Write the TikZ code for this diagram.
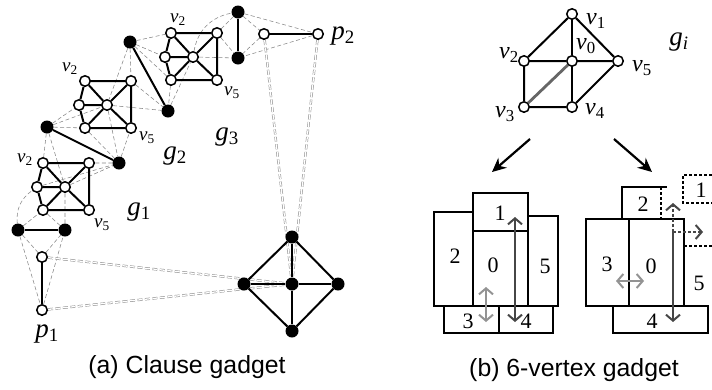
\documentclass[tikz,border=0pt]{standalone}
\usepackage{fontspec}
\setmainfont{Liberation Serif}
\newfontfamily\capfont{Liberation Sans}
\usetikzlibrary{arrows.meta, backgrounds}
\newcommand{\lab}[2]{\textit{#1}\textsubscript{#2}}

\begin{document}
\begin{tikzpicture}[x=1pt, y=-1pt,
  wv/.style={circle, draw, fill=white, line width=1.5pt, inner sep=0pt, minimum size=10.5pt},
  bv/.style={circle, fill=black, inner sep=0pt, minimum size=13pt},
  edge/.style={line width=2pt},
  aux/.style={draw=gray!95, line width=0.55pt, dash pattern=on 4pt off 2.5pt},
  link/.style={draw=gray!95, line width=0.5pt, double=white, double distance=1.3pt, dash pattern=on 5pt off 2.5pt},
  vlab/.style={font=\fontsize{19}{21}\selectfont, inner sep=0pt},
  blab/.style={font=\fontsize{24}{26}\selectfont, inner sep=0pt},
  glab/.style={font=\fontsize{27}{29}\selectfont, inner sep=0pt},
  num/.style={font=\fontsize{22}{24}\selectfont, inner sep=0pt},
  box/.style={line width=1.8pt},
  dbox/.style={line width=1.8pt, dash pattern=on 3pt off 2pt},
  arrow/.style={line width=2.2pt, -{Stealth[length=14pt, width=13pt]}},
  move/.style={line width=2pt, {Straight Barb[length=6pt, width=14pt]}-{Straight Barb[length=6pt, width=14pt]}},
  push/.style={line width=2pt, -{Straight Barb[length=6pt, width=14pt]}},
  subcap/.style={font=\capfont\fontsize{24.8}{28}\selectfont, inner sep=0pt}
]
\useasboundingbox (0,0) rectangle (712,389);

% (a) clause gadget
\foreach \g/\x/\y in {1/43/163, 2/85/81, 3/171/33} {
  \node[wv] (g\g-tl) at (\x,\y) {};
  \node[wv] (g\g-tr) at (\x+46,\y) {};
  \node[wv] (g\g-bl) at (\x,\y+47) {};
  \node[wv] (g\g-br) at (\x+46,\y+47) {};
  \node[wv] (g\g-l) at (\x-6,\y+24) {};
  \node[wv] (g\g-c) at (\x+22,\y+24) {};
  \draw[edge] (g\g-tl) -- (g\g-tr) -- (g\g-br) -- (g\g-bl) -- (g\g-l) -- (g\g-tl);
  \draw[edge] (g\g-c) -- (g\g-tl) (g\g-c) -- (g\g-tr) (g\g-c) -- (g\g-bl)
    (g\g-c) -- (g\g-br) (g\g-c) -- (g\g-l);
}

\node[bv] (b1) at (18,230) {};
\node[bv] (b2) at (65,230) {};
\node[wv] (w1) at (42,257) {};
\node[wv] (p1) at (42,310) {};
\node[bv] (c1) at (47,127) {};
\node[bv] (c2) at (119,163) {};
\node[bv] (d1) at (130,42) {};
\node[bv] (d2) at (168,111) {};
\node[bv] (e1) at (238,12) {};
\node[bv] (e2) at (238,58) {};
\node[wv] (w2) at (264,34) {};
\node[wv] (p2) at (318,34) {};

\node[bv] (dt) at (292,237) {};
\node[bv] (dl) at (244,284) {};
\node[bv] (dc) at (292,284) {};
\node[bv] (dr) at (338,284) {};
\node[bv] (db) at (292,331) {};

\draw[edge] (b1) -- (b2);
\draw[edge] (w1) -- (p1);
\draw[edge] (c1) -- (c2);
\draw[edge] (d1) -- (d2);
\draw[edge] (e1) -- (e2);
\draw[edge] (w2) -- (p2);
\draw[edge] (dt) -- (dl) -- (db) -- (dr) -- (dt);
\draw[edge] (dt) -- (dc) -- (db);
\draw[edge] (dl) -- (dc) -- (dr);

\begin{scope}[on background layer]
  \draw[aux] (b1) -- (w1) -- (b2);
  \draw[aux] (b1) -- (p1) -- (b2);
  \draw[aux] (b1) -- (g1-bl) -- (b2) -- (g1-c);
  \draw[aux] (b1) to[bend left=30] (g1-l);
  \draw[aux] (c1) -- (g1-tl);
  \draw[aux] (c1) -- (g1-c) -- (c2) -- (g1-tr);
  \draw[aux] (g1-l) -- (c2);
  \draw[aux] (c1) -- (g2-l);
  \draw[aux] (c1) -- (g2-bl) -- (c2);
  \draw[aux] (c1) -- (g2-c) -- (c2) -- (g2-br);
  \draw[aux] (d1) -- (g2-tr) -- (d2);
  \draw[aux] (d1) -- (g2-c) -- (d2);
  \draw[aux] (d1) -- (g3-l);
  \draw[aux] (d1) -- (g3-tl);
  \draw[aux] (d1) -- (g3-bl) -- (d2);
  \draw[aux] (d2) -- (g3-c);
  \draw[aux] (e1) -- (g3-tr) -- (e2);
  \draw[aux] (g3-c) to[bend left=35] (e1);
  \draw[aux] (g3-c) -- (e2);
  \draw[aux] (e1) -- (w2) -- (e2);
  \draw[aux] (e1) -- (p2) -- (e2);
  \draw[link] (w1) -- (dc);
  \draw[link] (p1) -- (dc);
  \draw[link] (w2) -- (dc);
  \draw[link] (p2) -- (dc);
\end{scope}

\node[vlab] (g1-v2) at (25,160) {\lab{v}{2}};
\node[vlab] (g1-v5) at (102,225) {\lab{v}{5}};
\node[vlab] (g2-v2) at (70,69) {\lab{v}{2}};
\node[vlab] (g2-v5) at (147,138) {\lab{v}{5}};
\node[vlab] (g3-v2) at (178,20) {\lab{v}{2}};
\node[vlab] (g3-v5) at (232,93) {\lab{v}{5}};
\node[glab] (g1-name) at (139,212) {\lab{g}{1}};
\node[glab] (g2-name) at (175,156) {\lab{g}{2}};
\node[glab] (g3-name) at (227,137) {\lab{g}{3}};
\node[glab] (p1-name) at (47,334) {\lab{p}{1}};
\node[glab] (p2-name) at (343,36) {\lab{p}{2}};

\node[subcap] (capa) at (187,367) {(a) Clause gadget};

% (b) 6-vertex gadget
\node[wv] (v0) at (572,61) {};
\node[wv] (v1) at (572,14) {};
\node[wv] (v2) at (524,61) {};
\node[wv] (v3) at (524,107) {};
\node[wv] (v4) at (572,107) {};
\node[wv] (v5) at (618,61) {};
\draw[gray!80!black, line width=2.8pt] (v3) -- (v0);
\draw[edge] (v2) -- (v1) -- (v5) -- (v4) -- (v3) -- (v2) -- (v0) -- (v5);
\draw[edge] (v1) -- (v0) -- (v4);
\node[blab] (v0-name) at (586,46) {\lab{v}{0}};
\node[blab] (v1-name) at (596,21) {\lab{v}{1}};
\node[blab] (v2-name) at (509,55) {\lab{v}{2}};
\node[blab] (v3-name) at (505,114) {\lab{v}{3}};
\node[blab] (v4-name) at (595,111) {\lab{v}{4}};
\node[blab] (v5-name) at (642,68) {\lab{v}{5}};
\node[glab] (gi-name) at (679,42) {\lab{g}{\itshape i}};

\coordinate (la) at (530,139);
\coordinate (lb) at (492,172);
\coordinate (ra) at (614,139);
\coordinate (rb) at (652,172);
\draw[arrow] (la) -- (lb);
\draw[arrow] (ra) -- (rb);

% first layout
\draw[box] (434,212) rectangle (473,306);
\draw[box] (473,193) rectangle (528,231);
\draw[box] (473,231) rectangle (528,306);
\draw[box] (528,216) rectangle (558,306);
\draw[box] (444,306) rectangle (499,333);
\draw[box] (499,306) rectangle (553,333);
\node[num] (l2) at (455,256) {2};
\node[num] (l1) at (500,213) {1};
\node[num] (l0) at (493,265) {0};
\node[num] (l5) at (545,266) {5};
\node[num] (l3) at (468,321) {3};
\node[num] (l4) at (526,321) {4};
\coordinate (ls) at (486,287);
\coordinate (lt) at (486,322);
\coordinate (ms) at (515,217);
\coordinate (mt) at (515,322);
\draw[move, gray!85] (ls) -- (lt);
\draw[move, gray!55!black] (ms) -- (mt);

% second layout
\draw[box] (622,219) -- (622,187) -- (667,187);
\draw[dbox] (661,187) -- (661,219);
\draw[dbox] (712,175) -- (683,175) -- (683,203) -- (712,203);
\draw[box] (586,219) rectangle (629,306);
\draw[box] (629,219) rectangle (684,306);
\draw[box] (613,306) rectangle (708,333);
\draw[dbox] (684,246) -- (712,246);
\node[num] (r2) at (643,204) {2};
\node[num] (r1) at (701,190) {1};
\node[num] (r3) at (607,264) {3};
\node[num] (r0) at (651,266) {0};
\node[num] (r5) at (699,283) {5};
\node[num] (r4) at (652,321) {4};
\coordinate (hs) at (616,281);
\coordinate (ht) at (644,281);
\coordinate (rs) at (673,232);
\coordinate (rt) at (673,322);
\coordinate (ru) at (673,203);
\coordinate (rr) at (703,232);
\draw[move, gray!85] (hs) -- (ht);
\draw[push, gray!55!black] (rs) -- (rt);
\draw[push, gray!55!black, dash pattern=on 3pt off 2pt] (rs) -- (ru);
\draw[push, gray!55!black, dash pattern=on 3pt off 2pt] (rs) -- (rr);

\node[subcap] (capb) at (574,370) {(b) 6-vertex gadget};
\end{tikzpicture}
\end{document}
